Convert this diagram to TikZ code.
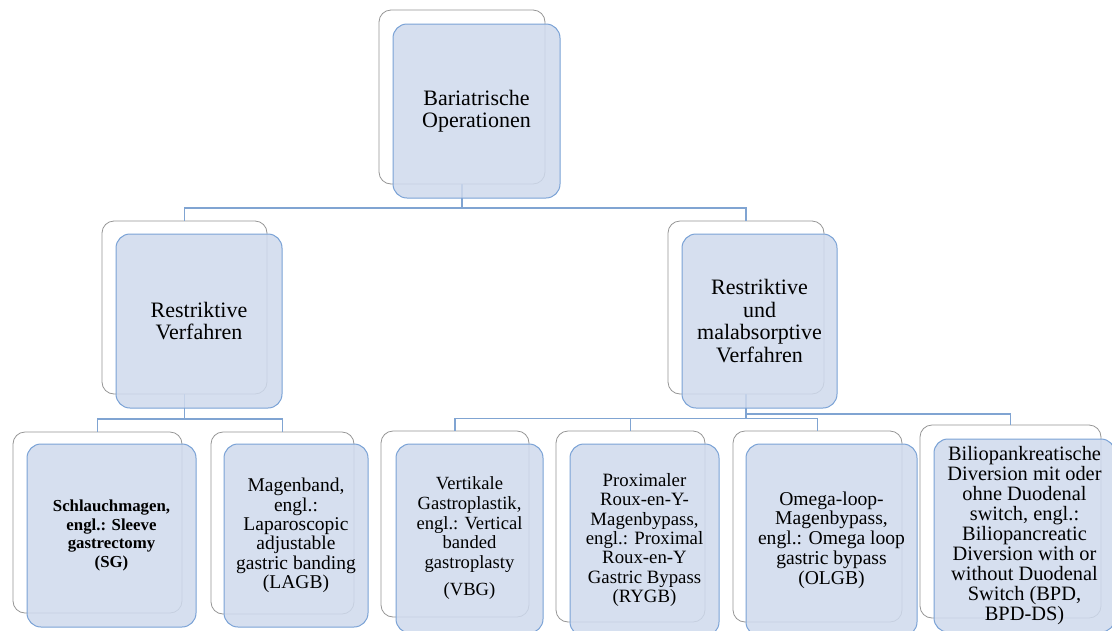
\documentclass[tikz,border=0pt]{standalone}
\usepackage{fontspec}
\setmainfont{Liberation Serif}

\definecolor{boxfill}{RGB}{207,218,237}
\definecolor{boxline}{RGB}{122,162,214}
\definecolor{linkblue}{RGB}{128,164,210}
\definecolor{backline}{RGB}{150,150,150}

\tikzset{
  backbox/.style={draw=backline, fill=white, rounded corners=12pt,
                  line width=0.8pt, inner sep=0pt},
  frontbox/.style={draw=boxline, fill=boxfill, fill opacity=0.85,
                   text opacity=1, rounded corners=14pt, line width=1pt,
                   align=center, inner sep=0pt},
  link/.style={draw=linkblue, line width=1.4pt}
}

\begin{document}
\begin{tikzpicture}[x=1pt,y=-1pt]

% Page area of the figure
\clip (0,0) rectangle (1112,630);
\fill[white] (0,0) rectangle (1112,630);

% Back boxes (white, grey outline), one per item
\node[backbox, minimum width=166pt, minimum height=174pt] (opB)   at (462,97)      {};
\node[backbox, minimum width=165pt, minimum height=173pt] (restB) at (184.5,307.5) {};
\node[backbox, minimum width=156pt, minimum height=173pt] (mixB)  at (746,307.5)   {};
\node[backbox, minimum width=169pt, minimum height=181pt] (sgB)   at (97.5,522.5)  {};
\node[backbox, minimum width=143pt, minimum height=182pt] (lagbB) at (282.5,523)   {};
\node[backbox, minimum width=148pt, minimum height=186pt] (vbgB)  at (455,524)     {};
\node[backbox, minimum width=149pt, minimum height=191pt] (rygbB) at (630.5,526.5) {};
\node[backbox, minimum width=169pt, minimum height=191pt] (olgbB) at (817.5,526.5) {};
\node[backbox, minimum width=181pt, minimum height=193pt] (bpdB)  at (1010.5,521.5) {};

% Junctions of the connectors
\coordinate (j1) at (462,208);
\coordinate (j2) at (184.5,419);
\coordinate (j3) at (746,418.5);
\coordinate (j4) at (746,414);

% Draw the connectors
\draw[link] (opB.south) -- (j1)
            (j1) -| (restB.north)
            (j1) -| (mixB.north);
\draw[link] (restB.south) -- (j2)
            (j2) -| (sgB.north)
            (j2) -| (lagbB.north);
\draw[link] (mixB.south) -- (j3)
            (j3) -| (vbgB.north)
            (j3) -| (rygbB.north)
            (j3) -| (olgbB.north)
            (j4) -| (bpdB.north);

% Front boxes (blue) with the texts
\node[frontbox, minimum width=167pt, minimum height=174pt,
      font=\fontsize{22}{22.5}\selectfont] (op) at (476.5,111)
      {Bariatrische\\Operationen};
\node[frontbox, minimum width=166pt, minimum height=174pt,
      font=\fontsize{22}{22.5}\selectfont] (rest) at (199,321)
      {Restriktive\\Verfahren};
\node[frontbox, minimum width=155pt, minimum height=174pt,
      font=\fontsize{22}{22.5}\selectfont] (mix) at (759.5,321)
      {Restriktive\\und\\malabsorptive\\Verfahren};
\node[frontbox, minimum width=169pt, minimum height=183pt,
      font=\fontsize{16.8}{18.4}\selectfont\bfseries] (sg) at (111.5,535.5)
      {Schlauchmagen,\\engl.: Sleeve\\gastrectomy\\(SG)};
\node[frontbox, minimum width=144pt, minimum height=183pt,
      font=\fontsize{19.5}{19.3}\selectfont] (lagb) at (296,535.5)
      {Magenband,\\engl.:\\Laparoscopic\\adjustable\\gastric banding\\(LAGB)};
\node[frontbox, minimum width=147pt, minimum height=189pt,
      font=\fontsize{18.6}{19.6}\selectfont] (vbg) at (469.5,538.5)
      {Vertikale\\Gastroplastik,\\engl.: Vertical\\banded\\gastroplasty\\[8pt](VBG)};
\node[frontbox, minimum width=149pt, minimum height=192pt,
      font=\fontsize{18.8}{19.4}\selectfont] (rygb) at (644.5,540)
      {Proximaler\\Roux-en-Y-\\Magenbypass,\\engl.: Proximal\\Roux-en-Y\\Gastric Bypass\\(RYGB)};
\node[frontbox, minimum width=171pt, minimum height=192pt,
      font=\fontsize{19.6}{19.8}\selectfont] (olgb) at (831.5,540)
      {Omega-loop-\\Magenbypass,\\engl.: Omega loop\\gastric bypass\\(OLGB)};
\node[frontbox, minimum width=181pt, minimum height=193pt,
      font=\fontsize{20.4}{20}\selectfont] (bpd) at (1024.5,535.5)
      {Biliopankreatische\\Diversion mit oder\\ohne Duodenal\\switch, engl.:\\Biliopancreatic\\Diversion with or\\without Duodenal\\Switch (BPD,\\BPD-DS)};

\end{tikzpicture}
\end{document}
